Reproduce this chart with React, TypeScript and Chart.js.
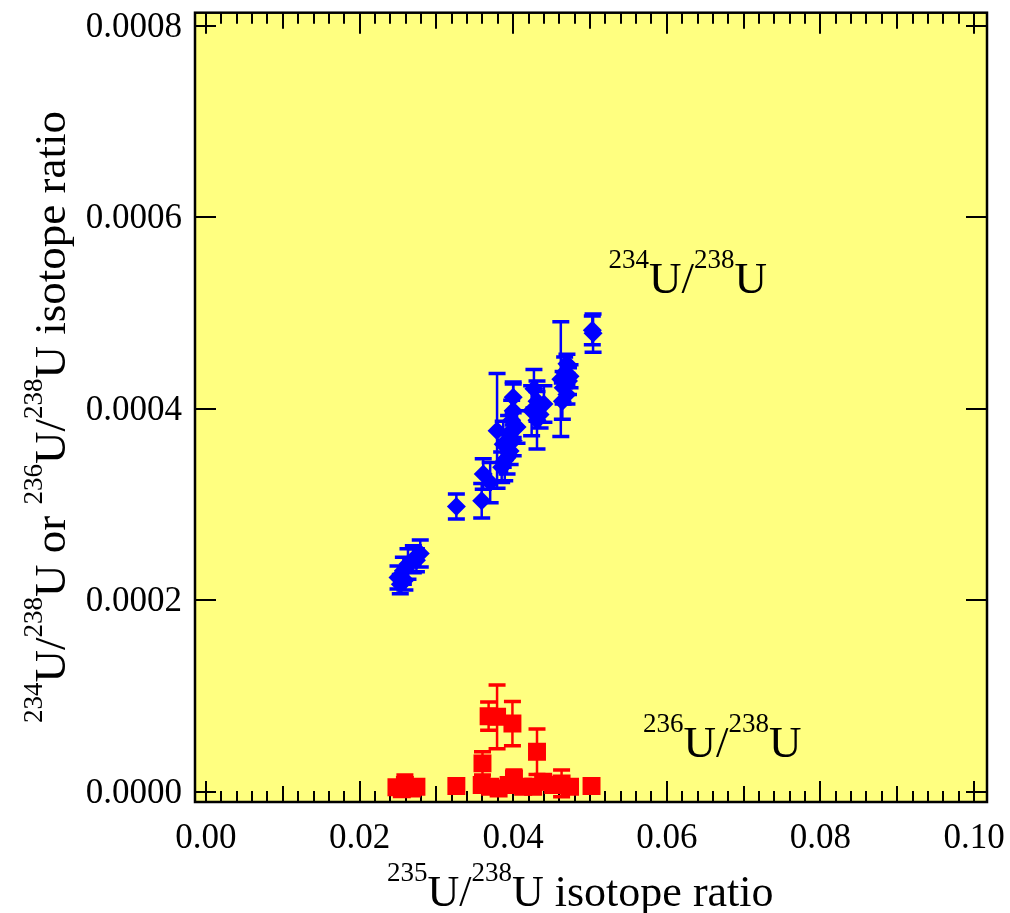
import React, { useEffect, useRef } from 'react';
import { Chart, registerables } from 'chart.js';

Chart.register(...registerables);

// ---- Data: 234U/238U (blue diamonds) ----
const blueX = [
  0.0504, 0.0503, 0.0462, 0.0470, 0.0467, 0.0472, 0.0465, 0.0470, 0.0464, 0.0474,
  0.0427, 0.0431, 0.0440, 0.0424, 0.0431, 0.0435,
  0.0379, 0.0400, 0.0400, 0.0398, 0.0405, 0.0394, 0.0387, 0.0396, 0.0389, 0.0385, 0.0392, 0.0400,
  0.0361, 0.0370, 0.0359, 0.0326,
  0.0253, 0.0250, 0.0257, 0.0263, 0.0270, 0.0279, 0.0259, 0.0274,
];
const blueY = [
  0.000479, 0.000482, 0.000431, 0.000447, 0.000438, 0.000429, 0.000422, 0.000415, 0.000408, 0.000434,
  0.000421, 0.000408, 0.000405, 0.000398, 0.000388, 0.000394,
  0.000377, 0.000412, 0.000398, 0.000388, 0.000381, 0.000374, 0.000363, 0.000356, 0.000346, 0.000339, 0.000349, 0.000367,
  0.000332, 0.000323, 0.000304, 0.000298,
  0.000217, 0.000224, 0.000231, 0.000238, 0.000243, 0.000249, 0.000221, 0.000242,
];
const blueErr = [
  0.000020, 0.000015, 0.000060, 0.000010, 0.000016, 0.000014, 0.000017, 0.000010, 0.000019, 0.000012,
  0.000020, 0.000021, 0.000019, 0.000026, 0.000030, 0.000014,
  0.000060, 0.000016, 0.000028, 0.000021, 0.000017, 0.000019, 0.000024, 0.000014, 0.000021, 0.000016, 0.000017, 0.000016,
  0.000016, 0.000021, 0.000018, 0.000013,
  0.000010, 0.000012, 0.000014, 0.000016, 0.000014, 0.000014, 0.000010, 0.000012,
];

// ---- Data: 236U/238U (red squares) ----
const redX = [
  0.0248, 0.0259, 0.0268, 0.0274, 0.0255,
  0.0326,
  0.0359, 0.0370, 0.0381, 0.0394, 0.0401, 0.0413, 0.0426, 0.0439, 0.0452, 0.0463, 0.0474,
  0.0502,
  0.0360, 0.0368, 0.0379, 0.0399, 0.0431,
];
const redY = [
  0.0000049, 0.0000073, 0.0000038, 0.0000055, 0.0000028,
  0.0000063,
  0.0000073, 0.0000055, 0.0000038, 0.0000073, 0.0000142, 0.0000055, 0.0000055, 0.0000107, 0.0000073, 0.0000090, 0.0000055,
  0.0000063,
  0.0000299, 0.0000792, 0.0000785, 0.0000715, 0.0000420,
];
const redErr = [
  0, 0.0000104, 0, 0, 0,
  0,
  0, 0, 0, 0, 0.0000087, 0, 0, 0.0000070, 0, 0.0000139, 0,
  0,
  0.0000121, 0.0000148, 0.0000333, 0.0000231, 0.0000238,
];

// ---- Axes ----
const xTicks = [0, 0.02, 0.04, 0.06, 0.08, 0.1];
const xTickLabels = ['0.00', '0.02', '0.04', '0.06', '0.08', '0.10'];
const yTicks = [0, 0.0002, 0.0004, 0.0006, 0.0008];
const yTickLabels = ['0.0000', '0.0002', '0.0004', '0.0006', '0.0008'];
const xMinorStep = 0.002;
const xMin = -0.00143;
const xMax = 0.10169;
const yMin = -0.0000104;
const yMax = 0.0008135;

type Seg = { t: string; sup?: boolean };
const xTitle: Seg[] = [
  { t: '235', sup: true }, { t: 'U/' }, { t: '238', sup: true }, { t: 'U isotope ratio' },
];
const yTitle: Seg[] = [
  { t: '234', sup: true }, { t: 'U/' }, { t: '238', sup: true }, { t: 'U or ' },
  { t: '236', sup: true }, { t: 'U/' }, { t: '238', sup: true }, { t: 'U isotope ratio' },
];
const label234: Seg[] = [{ t: '234', sup: true }, { t: 'U/' }, { t: '238', sup: true }, { t: 'U' }];
const label236: Seg[] = [{ t: '236', sup: true }, { t: 'U/' }, { t: '238', sup: true }, { t: 'U' }];
const label234Pos = { x: 0.0524, y: 0.000521 };
const label236Pos = { x: 0.0569, y: 0.0000368 };

const FONT = '"Liberation Serif", "Times New Roman", serif';

function drawRich(
  ctx: CanvasRenderingContext2D, segs: Seg[], x: number, y: number,
  mainPx = 45, supPx = 27, raise = 25,
) {
  let cx = x;
  ctx.textAlign = 'left';
  ctx.textBaseline = 'alphabetic';
  for (const s of segs) {
    ctx.font = `${s.sup ? supPx : mainPx}px ${FONT}`;
    ctx.fillText(s.t, cx, s.sup ? y - raise : y);
    cx += ctx.measureText(s.t).width;
  }
}

const framePlugin = {
  id: 'framePlugin',
  beforeDraw(chart: any) {
    const { ctx, chartArea: a } = chart;
    ctx.save();
    ctx.fillStyle = '#ffff80';
    ctx.fillRect(a.left, a.top, a.right - a.left, a.bottom - a.top);
    ctx.restore();
  },
  beforeDatasetsDraw(chart: any) {
    const { ctx, chartArea: a, scales } = chart;
    const xs = scales.x;
    const ys = scales.y;
    ctx.save();
    ctx.strokeStyle = '#000';
    ctx.lineWidth = 2;
    const n = Math.round(0.1 / xMinorStep);
    for (let i = 0; i <= n; i++) {
      const v = i * xMinorStep;
      const px = Math.round(xs.getPixelForValue(v));
      const len = i % 10 === 0 ? 21 : i % 5 === 0 ? 16 : 11;
      ctx.beginPath();
      ctx.moveTo(px, a.bottom);
      ctx.lineTo(px, a.bottom - len);
      ctx.moveTo(px, a.top);
      ctx.lineTo(px, a.top + len);
      ctx.stroke();
    }
    for (const v of yTicks) {
      const py = Math.round(ys.getPixelForValue(v));
      ctx.beginPath();
      ctx.moveTo(a.left, py);
      ctx.lineTo(a.left + 21, py);
      ctx.moveTo(a.right, py);
      ctx.lineTo(a.right - 21, py);
      ctx.stroke();
    }
    ctx.lineWidth = 2.5;
    ctx.strokeRect(a.left, a.top, a.right - a.left, a.bottom - a.top);

    ctx.beginPath();
    ctx.rect(a.left, a.top, a.right - a.left, a.bottom - a.top);
    ctx.clip();
    const drawErr = (X: number[], Y: number[], E: number[], color: string) => {
      ctx.strokeStyle = color;
      for (let i = 0; i < X.length; i++) {
        if (!E[i]) continue;
        const px = xs.getPixelForValue(X[i]);
        const pt = ys.getPixelForValue(Y[i] + E[i]);
        const pb = ys.getPixelForValue(Y[i] - E[i]);
        ctx.lineWidth = 2.5;
        ctx.beginPath();
        ctx.moveTo(px, pt);
        ctx.lineTo(px, pb);
        ctx.stroke();
        ctx.lineWidth = 3.5;
        ctx.beginPath();
        ctx.moveTo(px - 8.5, pt);
        ctx.lineTo(px + 8.5, pt);
        ctx.moveTo(px - 8.5, pb);
        ctx.lineTo(px + 8.5, pb);
        ctx.stroke();
      }
    };
    drawErr(blueX, blueY, blueErr, '#0000ff');
    drawErr(redX, redY, redErr, '#ff0000');
    ctx.restore();
  },
  afterDraw(chart: any) {
    const { ctx, chartArea: a, scales } = chart;
    const xs = scales.x;
    const ys = scales.y;
    ctx.save();
    ctx.fillStyle = '#000';
    ctx.font = `35px ${FONT}`;
    ctx.textBaseline = 'alphabetic';
    ctx.textAlign = 'center';
    xTicks.forEach((v, i) => {
      ctx.fillText(xTickLabels[i], xs.getPixelForValue(v), a.bottom + 46);
    });
    ctx.textAlign = 'right';
    yTicks.forEach((v, i) => {
      ctx.fillText(yTickLabels[i], a.left - 13, ys.getPixelForValue(v) + 11);
    });
    drawRich(ctx, xTitle, 387, 906, 44, 27, 25);
    ctx.save();
    ctx.translate(65, 723);
    ctx.rotate(-Math.PI / 2);
    drawRich(ctx, yTitle, 0, 0, 45, 27, 23);
    ctx.restore();
    drawRich(ctx, label234, xs.getPixelForValue(label234Pos.x), ys.getPixelForValue(label234Pos.y));
    drawRich(ctx, label236, xs.getPixelForValue(label236Pos.x), ys.getPixelForValue(label236Pos.y));
    ctx.restore();
  },
};

export default function App() {
  const ref = useRef<HTMLCanvasElement | null>(null);
  useEffect(() => {
    if (!ref.current) return;
    const chart = new Chart(ref.current, {
      type: 'scatter',
      data: {
        datasets: [
          {
            label: '234U/238U',
            data: blueX.map((x, i) => ({ x, y: blueY[i] })),
            pointStyle: 'rectRot',
            pointRadius: 9.5,
            backgroundColor: '#0000ff',
            borderWidth: 0,
          },
          {
            label: '236U/238U',
            data: redX.map((x, i) => ({ x, y: redY[i] })),
            pointStyle: 'rect',
            pointRadius: 12.7,
            backgroundColor: '#ff0000',
            borderWidth: 0,
          },
        ],
      },
      options: {
        animation: false,
        responsive: false,
        maintainAspectRatio: false,
        devicePixelRatio: 1,
        layout: { padding: { left: 0, right: 23, top: 11, bottom: 0 } },
        plugins: { legend: { display: false }, tooltip: { enabled: false } },
        scales: {
          x: {
            type: 'linear',
            min: xMin,
            max: xMax,
            grid: { display: false, drawTicks: false },
            border: { display: false },
            ticks: { display: false },
            afterFit: (s: any) => { s.height = 111; },
          },
          y: {
            type: 'linear',
            min: yMin,
            max: yMax,
            grid: { display: false, drawTicks: false },
            border: { display: false },
            ticks: { display: false },
            afterFit: (s: any) => { s.width = 195; },
          },
        },
      },
      plugins: [framePlugin],
    } as any);
    return () => chart.destroy();
  }, []);
  return (
    <div style={{ position: 'absolute', left: 0, top: 0, width: 1010, height: 913, background: '#fff' }}>
      <canvas ref={ref} width={1010} height={913} style={{ display: 'block' }} />
    </div>
  );
}
